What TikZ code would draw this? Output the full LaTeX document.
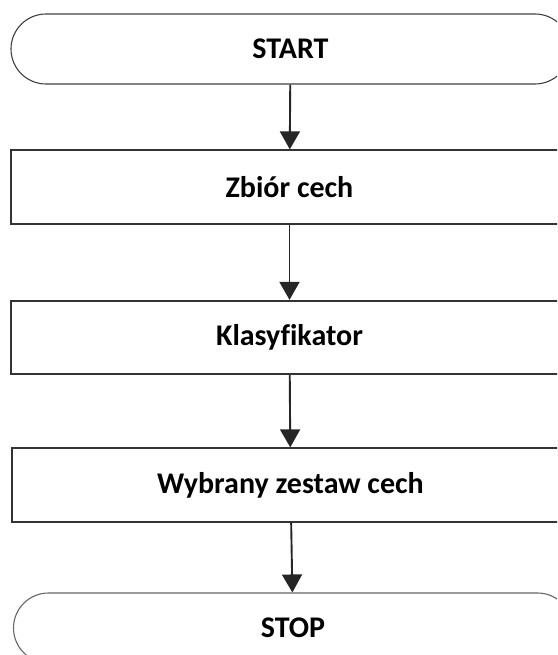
\documentclass[tikz,border=0pt]{standalone}
\usepackage{fontspec}
\setmainfont[Ligatures=NoCommon]{Carlito}
\usetikzlibrary{arrows.meta}
\begin{document}
\begin{tikzpicture}[x=1pt,y=-1pt,
  terminal/.style={draw=black!75, line width=1.1pt, rounded corners=35pt,
    minimum width=559pt, minimum height=70pt, inner sep=0pt},
  stepbox/.style={draw=black!80, line width=1.8pt,
    minimum width=557pt, minimum height=73.5pt, inner sep=0pt},
  flow/.style={draw=black!85, line width=1.9pt,
    -{Triangle[width=20pt,length=18pt]}},
  every node/.style={font=\fontsize{30}{36}\selectfont\bfseries}]
\useasboundingbox (0,0) rectangle (557,655);
\clip (0,0) rectangle (557,655);
% terminals and process steps
\node[terminal] (start) at (290.5,49) {START};
\node[stepbox] (feat) at (289.5,187) {Zbiór cech};
\node[stepbox] (clf) at (289.5,337.5) {Klasyfikator};
\node[stepbox] (sel) at (290.5,485) {Wybrany zestaw cech};
\node[terminal, draw=black!60] (stop) at (293,628) {STOP};
% flow between steps
\draw[flow] (start) -- (feat);
\draw[flow] (feat) -- (clf);
\draw[flow] (clf) -- (sel);
\draw[flow] (sel) -- (stop);
\end{tikzpicture}
\end{document}
